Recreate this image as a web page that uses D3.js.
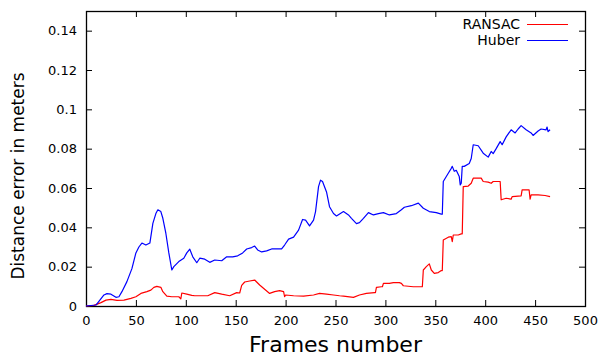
<!DOCTYPE html>
<html>
<head>
<meta charset="utf-8">
<script src="https://cdn.jsdelivr.net/npm/d3@7"></script>
<style>
  body { margin: 0; background: #fff; }
  text { font-family: "DejaVu Sans", sans-serif; }
</style>
</head>
<body>
<div id="chart"></div>
<script>
// frames and distance error (m)
const ransacFrames = [0, 8, 15, 20, 25, 31, 38, 45, 50, 55, 61, 65, 68, 71, 75, 77, 81, 86, 93, 95, 96, 101, 106, 109, 122, 129, 136, 144, 151, 154, 156, 159, 164, 169, 174, 179, 184, 189, 194, 198, 199, 200, 208, 218, 228, 234, 241, 248, 254, 258, 268, 274, 281, 289, 290, 291, 296, 297, 298, 304, 308, 314, 316, 318, 328, 336, 337, 338, 341, 344, 346, 349, 353, 356, 357, 358, 363, 366, 367, 368, 373, 376, 377, 378, 383, 386, 388, 393, 396, 398, 403, 406, 408, 415, 416, 421, 426, 427, 436, 437, 443, 444, 445, 446, 453, 460, 465];
const ransacValues = [0, 0.0003, 0.0017, 0.003, 0.0034, 0.0029, 0.003, 0.0039, 0.0047, 0.0064, 0.0073, 0.0081, 0.0095, 0.010, 0.0095, 0.0073, 0.005, 0.0047, 0.0047, 0.0036, 0.0066, 0.006, 0.0054, 0.0052, 0.0052, 0.0068, 0.006, 0.0052, 0.0068, 0.0066, 0.0105, 0.0122, 0.0127, 0.0132, 0.0107, 0.0085, 0.0064, 0.0073, 0.0078, 0.0073, 0.0047, 0.0056, 0.0052, 0.005, 0.0056, 0.0064, 0.006, 0.0056, 0.0052, 0.005, 0.0044, 0.0056, 0.0064, 0.0068, 0.0068, 0.0095, 0.0098, 0.0098, 0.0115, 0.0115, 0.0119, 0.0119, 0.0115, 0.0103, 0.0098, 0.0098, 0.0098, 0.0183, 0.020, 0.0214, 0.0183, 0.0166, 0.017, 0.018, 0.018, 0.0336, 0.035, 0.0353, 0.0327, 0.0361, 0.0361, 0.0367, 0.0367, 0.0607, 0.061, 0.0624, 0.065, 0.065, 0.065, 0.0633, 0.063, 0.0624, 0.0633, 0.0633, 0.054, 0.0548, 0.0543, 0.0556, 0.056, 0.059, 0.059, 0.059, 0.0543, 0.0565, 0.0565, 0.0562, 0.0556];

const huberFrames = [0, 10, 18, 21, 25, 30, 33, 36, 41, 46, 50, 53, 56, 60, 64, 67, 70, 72, 75, 77, 80, 83, 86, 88, 93, 98, 101, 104, 107, 111, 114, 119, 124, 129, 136, 141, 147, 152, 157, 161, 166, 169, 172, 176, 181, 186, 191, 196, 199, 203, 208, 213, 217, 220, 224, 228, 230, 233, 235, 237, 241, 244, 248, 251, 258, 263, 266, 271, 274, 278, 283, 288, 293, 298, 304, 311, 316, 319, 326, 333, 338, 344, 351, 356, 357, 358, 363, 366, 367, 369, 371, 374, 375, 376, 377, 379, 384, 386, 388, 393, 398, 403, 406, 408, 411, 415, 417, 421, 426, 430, 433, 436, 441, 446, 448, 453, 456, 461, 462, 463, 465];
const huberValues = [0, 0.0005, 0.0056, 0.0063, 0.006, 0.0044, 0.0047, 0.0073, 0.0124, 0.019, 0.027, 0.030, 0.032, 0.031, 0.032, 0.042, 0.047, 0.0489, 0.048, 0.0446, 0.037, 0.027, 0.0183, 0.020, 0.0226, 0.0243, 0.027, 0.0289, 0.025, 0.022, 0.0243, 0.0238, 0.0222, 0.0234, 0.023, 0.025, 0.025, 0.0255, 0.027, 0.029, 0.0297, 0.0305, 0.0285, 0.0275, 0.028, 0.029, 0.029, 0.029, 0.031, 0.034, 0.035, 0.0386, 0.044, 0.0437, 0.0407, 0.0437, 0.048, 0.0607, 0.064, 0.0633, 0.058, 0.0505, 0.047, 0.0458, 0.048, 0.0463, 0.0446, 0.0419, 0.0424, 0.0446, 0.0475, 0.0463, 0.047, 0.0475, 0.0463, 0.047, 0.0489, 0.0502, 0.051, 0.0523, 0.0497, 0.048, 0.0475, 0.0467, 0.0467, 0.0633, 0.0675, 0.070, 0.071, 0.0685, 0.069, 0.0658, 0.0616, 0.0624, 0.071, 0.071, 0.0725, 0.075, 0.082, 0.0815, 0.0777, 0.0757, 0.0786, 0.0775, 0.080, 0.0836, 0.082, 0.086, 0.0896, 0.088, 0.090, 0.0917, 0.0896, 0.088, 0.0867, 0.089, 0.090, 0.0896, 0.091, 0.0887, 0.0896];

const xTicks = [0, 50, 100, 150, 200, 250, 300, 350, 400, 450, 500];
const yTicks = [0, 0.02, 0.04, 0.06, 0.08, 0.1, 0.12, 0.14];
const yTickLabels = ["0", "0.02", "0.04", "0.06", "0.08", "0.1", "0.12", "0.14"];

const seriesNames = ["RANSAC", "Huber"];
const seriesColors = ["#ff0000", "#0000ff"];

const width = 601;
const height = 358;
const marginLeft = 86;
const marginRight = 16;
const marginTop = 11;
const marginBottom = 52;

const svg = d3.select("#chart").append("svg")
    .attr("width", width)
    .attr("height", height);

const x = d3.scaleLinear([0, 500], [marginLeft, width - marginRight]);
const y = d3.scaleLinear([0, 0.15], [height - marginBottom, marginTop]);

const plotW = width - marginLeft - marginRight;
const plotH = height - marginTop - marginBottom;
const tickLen = 6;

// axes with ticks pointing inward, mirrored on top/right
svg.append("g")
    .attr("transform", `translate(0,${height - marginBottom})`)
    .call(d3.axisBottom(x).tickValues(xTicks).tickSize(-tickLen).tickPadding(10).tickSizeOuter(0))
    .call(g => g.select(".domain").remove())
    .call(g => g.selectAll("text").attr("font-size", 13).attr("font-family", "DejaVu Sans"));

svg.append("g")
    .attr("transform", `translate(0,${marginTop})`)
    .call(d3.axisTop(x).tickValues(xTicks).tickSize(-tickLen).tickFormat("").tickSizeOuter(0))
    .call(g => g.select(".domain").remove());

svg.append("g")
    .attr("transform", `translate(${marginLeft},0)`)
    .call(d3.axisLeft(y).tickValues(yTicks).tickSize(-tickLen).tickPadding(9)
        .tickFormat((d, i) => yTickLabels[i]).tickSizeOuter(0))
    .call(g => g.select(".domain").remove())
    .call(g => g.selectAll("text").attr("font-size", 13).attr("font-family", "DejaVu Sans"));

svg.append("g")
    .attr("transform", `translate(${width - marginRight},0)`)
    .call(d3.axisRight(y).tickValues(yTicks).tickSize(-tickLen).tickFormat("").tickSizeOuter(0))
    .call(g => g.select(".domain").remove());

svg.selectAll(".tick line").attr("stroke", "#000");

// frame
svg.append("rect")
    .attr("x", marginLeft + 0.5)
    .attr("y", marginTop + 0.5)
    .attr("width", plotW)
    .attr("height", plotH)
    .attr("fill", "none")
    .attr("stroke", "#000")
    .attr("stroke-width", 1.3);

const line = d3.line()
    .x(d => x(d[0]))
    .y(d => y(d[1]));

const ransac = d3.zip(ransacFrames, ransacValues);
const huber = d3.zip(huberFrames, huberValues);

[ransac, huber].forEach((data, i) => {
  svg.append("path")
      .attr("fill", "none")
      .attr("stroke", seriesColors[i])
      .attr("stroke-width", 1.2)
      .attr("stroke-linejoin", "round")
      .attr("d", line(data));
});

// legend
const legend = svg.append("g");
seriesNames.forEach((name, i) => {
  const ly = 24.5 + i * 16;
  legend.append("text")
      .attr("x", 520)
      .attr("y", ly)
      .attr("dy", "0.35em")
      .attr("text-anchor", "end")
      .attr("font-size", 14)
      .text(name);
  legend.append("line")
      .attr("x1", 527)
      .attr("x2", 568)
      .attr("y1", ly)
      .attr("y2", ly)
      .attr("stroke", seriesColors[i])
      .attr("stroke-width", 1.2);
});

// axis titles
svg.append("text")
    .attr("x", (marginLeft + width - marginRight) / 2)
    .attr("y", 352)
    .attr("text-anchor", "middle")
    .attr("font-size", 22)
    .text("Frames number");

svg.append("text")
    .attr("transform", "translate(24,176) rotate(-90)")
    .attr("text-anchor", "middle")
    .attr("font-size", 17)
    .text("Distance error in meters");
</script>
</body>
</html>
